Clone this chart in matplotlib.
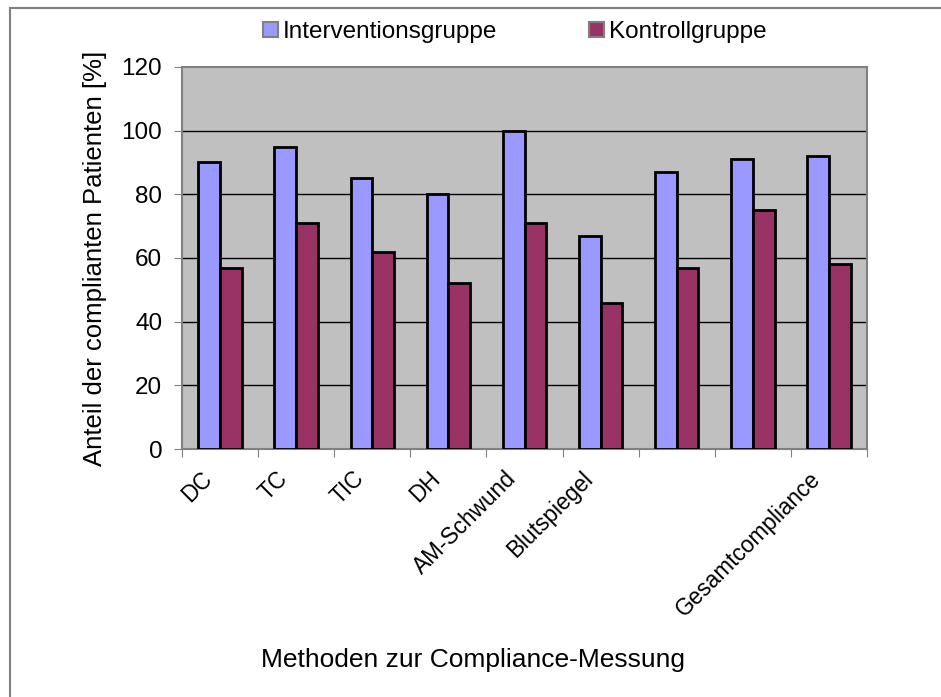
import matplotlib
matplotlib.use("Agg")
import matplotlib.pyplot as plt
import numpy as np
from matplotlib.patches import Rectangle, Patch

categories = ["DC", "TC", "TIC", "DH", "AM-Schwund", "Blutspiegel", "", "", "Gesamtcompliance"]
intervention = [90, 95, 85, 80, 100, 67, 87, 91, 92]
kontroll = [57, 71, 62, 52, 71, 46, 57, 75, 58]
series_names = ["Interventionsgruppe", "Kontrollgruppe"]
yticks = [0, 20, 40, 60, 80, 100, 120]

plt.rcParams['font.family'] = ['Liberation Sans', 'DejaVu Sans']

fig = plt.figure(figsize=(9.41, 6.97), dpi=100)
ax = fig.add_axes([0.1934, 0.3558, 0.7280, 0.5481])

x = np.arange(len(categories))
w = 1 / 3.5
c_int = "#9999FF"
c_kon = "#993366"
ax.bar(x - w / 2, intervention, width=w, color=c_int, edgecolor="black", linewidth=2, zorder=3)
ax.bar(x + w / 2, kontroll, width=w, color=c_kon, edgecolor="black", linewidth=2, zorder=3)

ax.set_facecolor("#C0C0C0")
ax.set_xlim(-0.5, len(categories) - 0.5)
ax.set_ylim(0, 120)
ax.set_yticks(yticks)
ax.set_yticklabels([str(t) for t in yticks], fontsize=17.5)
for t in yticks[1:-1]:
    ax.axhline(t, color="black", linewidth=1, zorder=1)

# category boundaries carry the tick marks; labels hang just left of each category centre
ax.set_xticks(np.arange(len(categories) + 1) - 0.5, minor=False)
ax.set_xticklabels([])
ax.set_xticks(x - 0.26, minor=True)
ax.set_xticklabels(categories, minor=True, rotation=45, ha="right",
                   rotation_mode="anchor", fontsize=16.3)
ax.tick_params(axis="x", which="minor", length=0, pad=13)
ax.tick_params(axis="x", which="major", length=5.8, color="#808080", direction="out")
ax.tick_params(axis="y", length=5.8, color="#808080", direction="out", pad=8.5)
for s in ax.spines.values():
    s.set_color("#808080")
    s.set_linewidth(1.5)

ax.set_ylabel("Anteil der complianten Patienten [%]", fontsize=18.5, labelpad=10)
fig.text(0.503, 0.053, "Methoden zur Compliance-Messung", ha="center", va="center", fontsize=19)

handles = [Patch(facecolor=c_int, edgecolor="#808080", linewidth=1.5),
           Patch(facecolor=c_kon, edgecolor="#808080", linewidth=1.5)]
fig.legend(handles, series_names, loc="center", bbox_to_anchor=(0.547, 0.954), ncol=2,
           frameon=False, fontsize=17.5, handlelength=0.62, handleheight=0.62,
           handletextpad=0.2, columnspacing=3.8, borderpad=0, borderaxespad=0)

# chart frame: only its top and left edges fall inside the canvas
fig.patches.append(Rectangle((10 / 941, -0.2), 1.5, 1.2 - 8 / 697, transform=fig.transFigure,
                             fill=False, edgecolor="#808080", linewidth=1.5))

fig.savefig("out.png", dpi=100)
